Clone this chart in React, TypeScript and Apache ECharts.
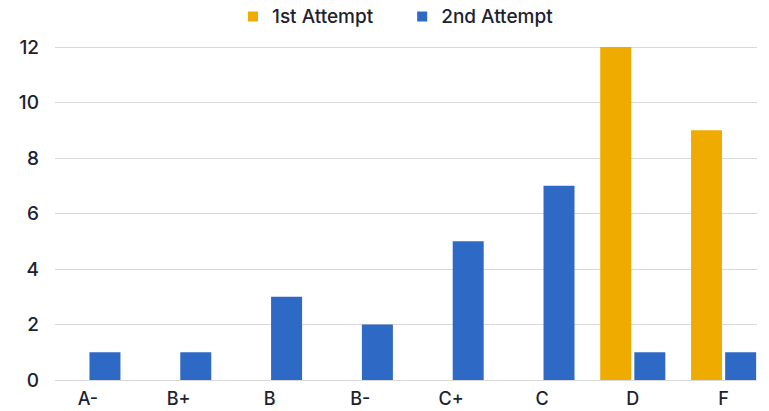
import React, { useEffect, useRef } from "react";
import * as echarts from "echarts";

const grades = ["A-", "B+", "B", "B-", "C+", "C", "D", "F"];
const firstAttempt = [0, 0, 0, 0, 0, 0, 12, 9];
const secondAttempt = [1, 1, 3, 2, 5, 7, 1, 1];
const yTicks = { min: 0, max: 12, interval: 2 };

const ORANGE = "#F0AB00";
const BLUE = "#2E6AC5";
const TEXT = "#1c2230";
const FONT = "Inter, 'Noto Sans', sans-serif";

export default function App() {
  const ref = useRef<HTMLDivElement>(null);

  useEffect(() => {
    if (!ref.current) return;
    const chart = echarts.init(ref.current, null, { renderer: "svg" });
    chart.setOption({
      animation: false,
      backgroundColor: "#ffffff",
      legend: {
        left: 243,
        top: 2,
        icon: "rect",
        itemWidth: 10,
        itemHeight: 10,
        itemGap: 44,
        textStyle: {
          fontFamily: FONT,
          fontSize: 19,
          fontWeight: 500,
          color: TEXT,
          padding: [0, 0, 0, 9],
        },
        data: ["1st Attempt", "2nd Attempt"],
      },
      grid: [
        // gridlines and value labels
        { left: 55, right: 12, top: 47, bottom: 31, containLabel: false },
        // bars
        { left: 42.5, width: 728, top: 47, bottom: 31, containLabel: false },
      ],
      xAxis: [
        { gridIndex: 0, type: "value", show: false, min: 0, max: 1 },
        {
          gridIndex: 1,
          type: "category",
          data: grades,
          axisLine: { show: false },
          axisTick: { show: false },
          axisLabel: {
            margin: 9,
            fontFamily: FONT,
            fontSize: 18,
            fontWeight: 500,
            color: TEXT,
          },
        },
      ],
      yAxis: [
        {
          gridIndex: 0,
          type: "value",
          ...yTicks,
          axisLine: { show: false },
          axisTick: { show: false },
          splitLine: { show: true, lineStyle: { color: "#d9d9d9", width: 1 } },
          axisLabel: {
            margin: 16,
            fontFamily: FONT,
            fontSize: 19,
            fontWeight: 500,
            color: TEXT,
          },
        },
        {
          gridIndex: 1,
          type: "value",
          ...yTicks,
          show: false,
          splitLine: { show: false },
        },
      ],
      series: [
        {
          name: "1st Attempt",
          type: "bar",
          xAxisIndex: 1,
          yAxisIndex: 1,
          data: firstAttempt,
          barWidth: 31,
          barGap: "10%",
          itemStyle: { color: ORANGE },
        },
        {
          name: "2nd Attempt",
          type: "bar",
          xAxisIndex: 1,
          yAxisIndex: 1,
          data: secondAttempt,
          barWidth: 31,
          barGap: "10%",
          itemStyle: { color: BLUE },
        },
      ],
    });
    return () => chart.dispose();
  }, []);

  return (
    <div
      ref={ref}
      style={{ width: 769, height: 411, position: "absolute", left: 0, top: 0 }}
    />
  );
}
